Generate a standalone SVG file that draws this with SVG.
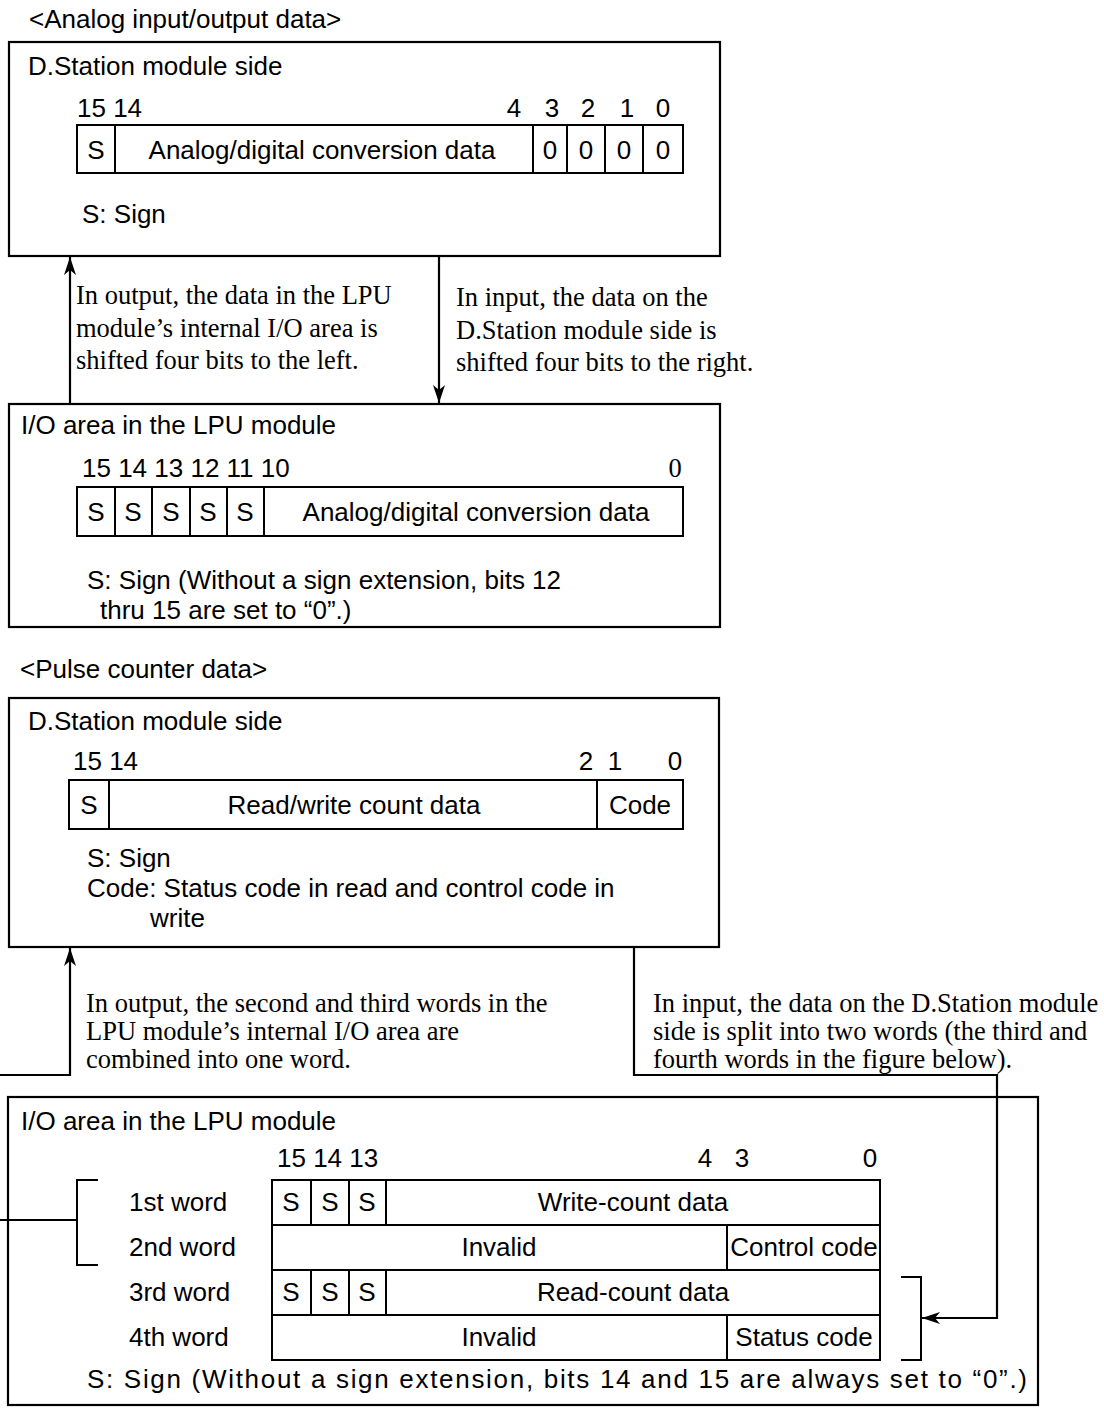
<svg xmlns="http://www.w3.org/2000/svg" width="1104" height="1421" viewBox="0 0 1104 1421">
<style>
.box{fill:none;stroke:#000;stroke-width:2.2}
.cell{fill:#fff;stroke:#000;stroke-width:2}
.ln{fill:none;stroke:#000;stroke-width:2}
.s{font-family:"Liberation Sans",Arial,sans-serif;font-size:26px;fill:#000}
.t{font-family:"Liberation Serif","Times New Roman",serif;font-size:26.5px;fill:#000}
.m{text-anchor:middle}
.wire{fill:none;stroke:#000;stroke-width:2.2}
</style>
<defs>
<marker id="ah" viewBox="-19 -7 20 14" refX="0" refY="0" markerWidth="20" markerHeight="14" orient="auto" markerUnits="userSpaceOnUse">
<path d="M0,0 L-18,-6 L-13,0 L-18,6 Z" fill="#000"/>
</marker>
</defs>
<rect width="1104" height="1421" fill="#fff"/>

<text class="s" x="29" y="28">&lt;Analog input/output data&gt;</text>

<g id="dstation-analog">
<rect class="box" x="9" y="42" width="711" height="214"/>
<text class="s" x="28" y="75">D.Station module side</text>
<text class="s" x="77" y="117">15 14</text>
<text class="s m" x="514" y="117">4</text>
<text class="s m" x="552" y="117">3</text>
<text class="s m" x="588" y="117">2</text>
<text class="s m" x="627" y="117">1</text>
<text class="s m" x="663" y="117">0</text>
<rect class="cell" x="77" y="125" width="606" height="48"/>
<path class="ln" d="M115,125V173M533,125V173M567,125V173M605,125V173M643,125V173"/>
<text class="s m" x="96" y="159">S</text>
<text class="s m" x="322" y="159">Analog/digital conversion data</text>
<text class="s m" x="550" y="159">0</text>
<text class="s m" x="586" y="159">0</text>
<text class="s m" x="624" y="159">0</text>
<text class="s m" x="663" y="159">0</text>
<text class="s" x="82" y="223">S: Sign</text>
</g>

<g id="lpu-analog">
<rect class="box" x="9" y="404" width="711" height="223"/>
<text class="s" x="21" y="434">I/O area in the LPU module</text>
<text class="s" x="82" y="477">15 14 13 12 11 10</text>
<text class="t m" x="675" y="477">0</text>
<rect class="cell" x="77" y="487" width="606" height="49"/>
<path class="ln" d="M115,487V536M152,487V536M190,487V536M227,487V536M264,487V536"/>
<text class="s m" x="96" y="521">S</text>
<text class="s m" x="133" y="521">S</text>
<text class="s m" x="171" y="521">S</text>
<text class="s m" x="208" y="521">S</text>
<text class="s m" x="245" y="521">S</text>
<text class="s m" x="476" y="521">Analog/digital conversion data</text>
<text class="s" x="87" y="589">S: Sign (Without a sign extension, bits 12</text>
<text class="s" x="100" y="619">thru 15 are set to “0”.)</text>
</g>

<text class="s" x="20" y="678">&lt;Pulse counter data&gt;</text>

<g id="dstation-pulse">
<rect class="box" x="9" y="698" width="710" height="249"/>
<text class="s" x="28" y="730">D.Station module side</text>
<text class="s" x="73" y="770">15 14</text>
<text class="s m" x="586" y="770">2</text>
<text class="s m" x="615" y="770">1</text>
<text class="s m" x="675" y="770">0</text>
<rect class="cell" x="69" y="780" width="614" height="49"/>
<path class="ln" d="M109,780V829M597,780V829"/>
<text class="s m" x="89" y="814">S</text>
<text class="s m" x="354" y="814">Read/write count data</text>
<text class="s m" x="640" y="814">Code</text>
<text class="s" x="87" y="867">S: Sign</text>
<text class="s" x="87" y="897">Code: Status code in read and control code in</text>
<text class="s" x="150" y="927">write</text>
</g>

<g id="lpu-pulse">
<rect class="box" x="8" y="1097" width="1030" height="308"/>
<text class="s" x="21" y="1130">I/O area in the LPU module</text>
<text class="s" x="277" y="1167">15 14 13</text>
<text class="s m" x="705" y="1167">4</text>
<text class="s m" x="742" y="1167">3</text>
<text class="s m" x="870" y="1167">0</text>
<text class="s" x="129" y="1211">1st word</text>
<text class="s" x="129" y="1256">2nd word</text>
<text class="s" x="129" y="1301">3rd word</text>
<text class="s" x="129" y="1346">4th word</text>
<rect class="cell" x="272" y="1180" width="608" height="180"/>
<path class="ln" d="M272,1225H880M272,1270H880M272,1315H880M311,1180V1225M349,1180V1225M386,1180V1225M727,1225V1270M311,1270V1315M349,1270V1315M386,1270V1315M727,1315V1360"/>
<text class="s m" x="291" y="1211">S</text>
<text class="s m" x="330" y="1211">S</text>
<text class="s m" x="367" y="1211">S</text>
<text class="s m" x="633" y="1211">Write-count data</text>
<text class="s m" x="499" y="1256">Invalid</text>
<text class="s m" x="804" y="1256">Control code</text>
<text class="s m" x="291" y="1301">S</text>
<text class="s m" x="330" y="1301">S</text>
<text class="s m" x="367" y="1301">S</text>
<text class="s m" x="633" y="1301">Read-count data</text>
<text class="s m" x="499" y="1346">Invalid</text>
<text class="s m" x="804" y="1346">Status code</text>
<path class="ln" d="M98,1180H77V1265H98"/>
<path class="ln" d="M901,1277H921V1360H901"/>
<text class="s" x="87" y="1388" textLength="940" lengthAdjust="spacing">S: Sign (Without a sign extension, bits 14 and 15 are always set to “0”.)</text>
</g>

<g id="connectors">
<path class="wire" d="M70,404V257" marker-end="url(#ah)"/>
<path class="wire" d="M439,256V403" marker-end="url(#ah)"/>
<path class="wire" d="M77,1220H-3V1075H70V948" marker-end="url(#ah)"/>
<path class="wire" d="M634,947V1075H997V1318H922" marker-end="url(#ah)"/>
</g>

<g id="labels">
<text class="t" x="76" y="304">In output, the data in the LPU</text>
<text class="t" x="76" y="337">module’s internal I/O area is</text>
<text class="t" x="76" y="369">shifted four bits to the left.</text>
<text class="t" x="456" y="306">In input, the data on the</text>
<text class="t" x="456" y="339">D.Station module side is</text>
<text class="t" x="456" y="371">shifted four bits to the right.</text>
<text class="t" x="86" y="1012">In output, the second and third words in the</text>
<text class="t" x="86" y="1040">LPU module’s internal I/O area are</text>
<text class="t" x="86" y="1068">combined into one word.</text>
<text class="t" x="653" y="1012">In input, the data on the D.Station module</text>
<text class="t" x="653" y="1040">side is split into two words (the third and</text>
<text class="t" x="653" y="1068">fourth words in the figure below).</text>
</g>
</svg>
